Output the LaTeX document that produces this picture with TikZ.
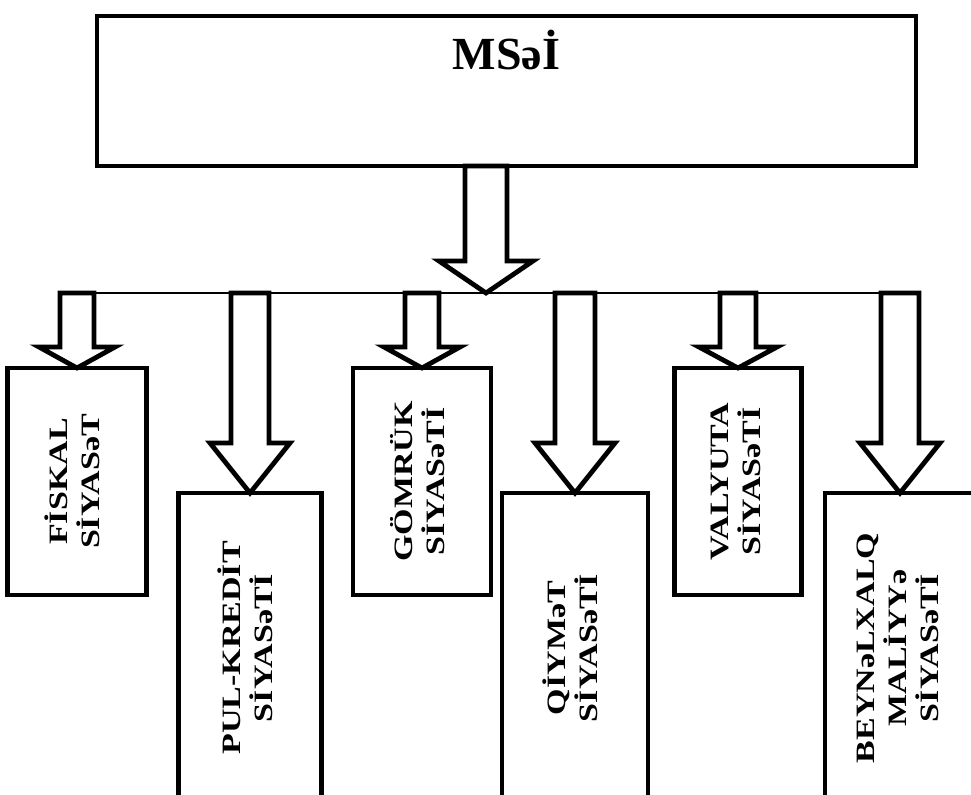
\documentclass[tikz,border=0pt]{standalone}
\usepackage{fontspec}
\setmainfont{Liberation Serif}
\usepackage{graphicx}
\usetikzlibrary{calc,positioning}

% hollow block arrow: top point, tip point, half shaft, half head, head length
\newcommand{\blkarrow}[5]{%
  \draw[arr] ($(#1)+(-#3,0)$) -- ($(#2)+(-#3,-#5)$) -- ($(#2)+(-#4,-#5)$) -- (#2)
    -- ($(#2)+(#4,-#5)$) -- ($(#2)+(#3,-#5)$) -- ($(#1)+(#3,0)$) -- cycle;}
% upright label turned to read bottom to top
\newcommand{\vtxt}[1]{\rotatebox{90}{\scalebox{1}[0.78]{\begin{tabular}{@{}c@{}}#1\end{tabular}}}}

\begin{document}
\begin{tikzpicture}[x=0.5pt,y=-0.5pt,
 sbox/.style={draw,line width=2.2pt,fill=white,outer sep=0pt,inner sep=0pt,anchor=north,
   font=\fontsize{17}{20}\selectfont\bfseries},
 short/.style={sbox,minimum height=113.5pt},
 long/.style={sbox,minimum height=155pt},
 arr/.style={draw,line width=2.4pt,fill=white,line join=miter},
 bus/.style={line width=0.7pt}]
\useasboundingbox (0,0) rectangle (971,794);
\clip (0,0) rectangle (971,794);

\node[sbox,line width=2pt,anchor=north west,minimum width=409.5pt,minimum height=75pt] (msei) at (97,16) {};
\node[font=\fontsize{23}{26}\selectfont\bfseries,anchor=base] (mseititle) at ($(msei.north)+(0,53)$) {MSəİ};

\node[short,minimum width=69.5pt] (fiskal) at (77,368) {\vtxt{FİSKAL\\SİYASəT}};
\node[long,minimum width=71.5pt] (pulkredit) at (250,493) {\vtxt{PUL-KREDİT\\SİYASəTİ}};
\node[short,minimum width=69pt] (gomruk) at (422,368) {\vtxt{GÖMRÜK\\SİYASəTİ}};
\node[long,minimum width=73pt] (qiymet) at (575,493) {\vtxt{QİYMəT\\SİYASəTİ}};
\node[short,minimum width=63.5pt] (valyuta) at (738,368) {\vtxt{VALYUTA\\SİYASəTİ}};
\node[long,minimum width=75pt] (beynelxalq) at (900,493) {\vtxt{BEYNəLXALQ\\MALİYYə\\SİYASəTİ}};

\coordinate (hub) at (486,293);
\draw[bus] (fiskal.north |- hub) -- (beynelxalq.north |- hub);

\blkarrow{hub |- msei.south}{hub}{21}{47}{32}
\blkarrow{fiskal.north |- hub}{fiskal.north}{17}{38}{21}
\blkarrow{gomruk.north |- hub}{gomruk.north}{17}{38}{21}
\blkarrow{valyuta.north |- hub}{valyuta.north}{18}{39}{21}
\blkarrow{pulkredit.north |- hub}{pulkredit.north}{19}{40}{50}
\blkarrow{qiymet.north |- hub}{qiymet.north}{20}{40}{50}
\blkarrow{beynelxalq.north |- hub}{beynelxalq.north}{19}{40}{50}
\end{tikzpicture}
\end{document}
